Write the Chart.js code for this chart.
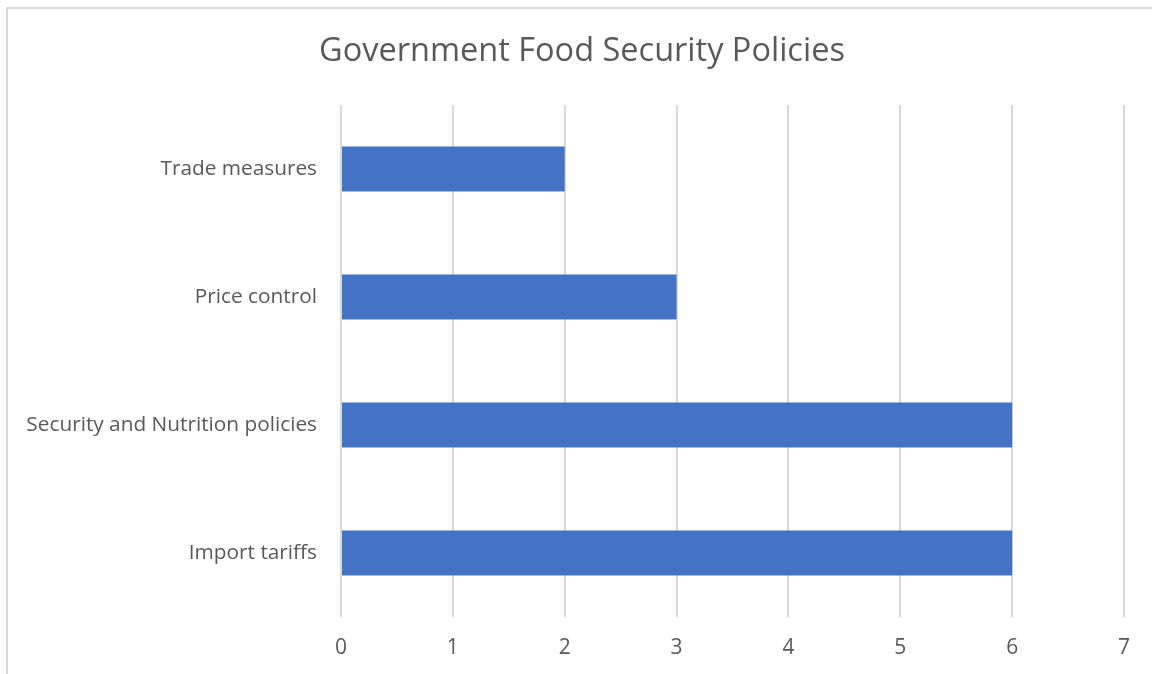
<!DOCTYPE html>
<html>
<head>
<meta charset="utf-8">
<script src="https://cdn.jsdelivr.net/npm/chart.js@4/dist/chart.umd.min.js"></script>
<style>
  html, body { margin:0; padding:0; background:#fff; }
  #wrap { position:relative; width:1152px; height:674px; overflow:hidden; }
  #frame { position:absolute; left:6px; top:7px; right:-4px; bottom:-4px; border-left:2px solid #d9d9d9; border-top:2px solid #d9d9d9; }
  canvas { position:absolute; left:0; top:0; }
</style>
</head>
<body>
<div id="wrap">
  <div id="frame"></div>
  <canvas id="policyChart" width="1152" height="674"></canvas>
</div>
<script>
// chart data
const categories = ['Trade measures', 'Price control', 'Security and Nutrition policies', 'Import tariffs'];
const counts = [2, 3, 6, 6];
const xTicks = [0, 1, 2, 3, 4, 5, 6, 7];

const textColor = '#595959';
const fontFamily = '"Open Sans", "Noto Sans", sans-serif';

// nudge the title box so the title is centred like the original (not over the chart width)
const titleShift = {
  id: 'titleShift',
  afterLayout(chart){
    const t = chart.titleBlock;
    if(t){ t.left = 40; t.right = 1124; }
  }
};

document.addEventListener('DOMContentLoaded', ()=>{
  const ctx = document.getElementById('policyChart').getContext('2d');

  new Chart(ctx, {
    type: 'bar',
    data: {
      labels: categories,
      datasets: [{
        label: 'Policies',
        data: counts,
        backgroundColor: '#4472c4',
        borderWidth: 0,
        barPercentage: 1,
        categoryPercentage: 0.352
      }]
    },
    options: {
      indexAxis: 'y',
      responsive: false,
      animation: false,
      layout: { padding: { left: 0, right: 28, top: 0, bottom: 0 } },
      plugins: {
        legend: { display: false },
        tooltip: { enabled: false },
        title: {
          display: true,
          text: 'Government Food Security Policies',
          color: textColor,
          font: { family: fontFamily, size: 32.5, weight: 'normal', lineHeight: 1.2 },
          padding: { top: 32.5, bottom: 33.5 }
        }
      },
      scales: {
        x: {
          min: 0,
          max: 7,
          afterBuildTicks: (axis)=>{ axis.ticks = xTicks.map(v=>({value:v})); },
          afterFit: (axis)=>{ axis.height = 57; },
          grid: { color: '#d9d9d9', lineWidth: 2, drawTicks: false },
          border: { display: false },
          ticks: { color: textColor, padding: 18, font: { family: fontFamily, size: 21 } }
        },
        y: {
          afterFit: (axis)=>{ axis.width = 341; },
          grid: { display: false },
          border: { display: false },
          ticks: { color: textColor, padding: 16, font: { family: fontFamily, size: 20.8 } }
        }
      }
    },
    plugins: [titleShift]
  });
});
</script>
</body>
</html>
